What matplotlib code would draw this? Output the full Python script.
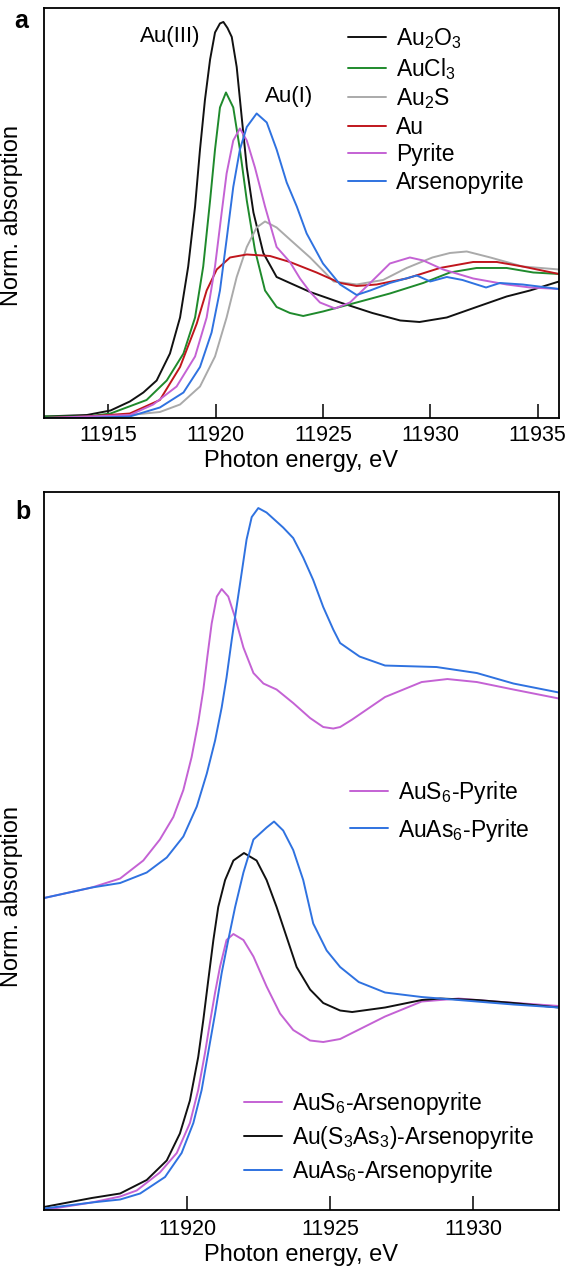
import matplotlib
matplotlib.use("Agg")
import matplotlib.pyplot as plt

plt.rcParams['font.family'] = ['Liberation Sans', 'DejaVu Sans']
plt.rcParams['mathtext.default'] = 'regular'

# --- panel a : reference spectra (energy in eV, normalised absorption) ---
e_au2o3 = [11912.0, 11914.0, 11915.1, 11916.0, 11916.63, 11917.25, 11917.87, 11918.34, 11918.72,
           11919.04, 11919.27, 11919.5, 11919.74, 11919.97, 11920.2, 11920.36, 11920.55, 11920.75,
           11920.98, 11921.21, 11921.45, 11921.76, 11922.22, 11922.84, 11923.46, 11924.4, 11925.8,
           11927.3, 11928.6, 11929.5, 11930.77, 11932.16, 11933.56, 11934.65, 11936.0]
y_au2o3 = [0.01, 0.02, 0.05, 0.11, 0.17, 0.25, 0.43, 0.67, 1.01,
           1.41, 1.79, 2.12, 2.39, 2.57, 2.63, 2.64, 2.60, 2.54,
           2.34, 2.01, 1.67, 1.37, 1.10, 0.94, 0.90, 0.84, 0.77,
           0.70, 0.65, 0.64, 0.67, 0.74, 0.81, 0.85, 0.91]

e_aucl3 = [11912.0, 11914.0, 11915.1, 11916.78, 11917.72, 11918.5, 11919.04, 11919.42, 11919.74,
           11919.97, 11920.2, 11920.48, 11920.82, 11921.13, 11921.45, 11921.83, 11922.3, 11922.84,
           11923.46, 11924.08, 11925.0, 11926.57, 11928.12, 11929.67, 11930.92, 11932.16, 11933.56,
           11934.8, 11936.0]
y_aucl3 = [0.01, 0.01, 0.03, 0.12, 0.25, 0.43, 0.67, 1.01, 1.45,
           1.79, 2.07, 2.17, 2.07, 1.79, 1.45, 1.12, 0.85, 0.74,
           0.70, 0.68, 0.71, 0.77, 0.83, 0.90, 0.97, 1.00, 1.00,
           0.97, 0.96]

e_au2s = [11912.0, 11914.0, 11916.0, 11917.4, 11918.34, 11919.27, 11919.97, 11920.51, 11920.98,
          11921.45, 11921.91, 11922.3, 11922.84, 11923.46, 11924.4, 11925.5, 11926.57, 11927.8,
          11928.9, 11930.1, 11930.92, 11931.7, 11932.8, 11934.3, 11936.0]
y_au2s = [0.00, 0.00, 0.02, 0.04, 0.09, 0.21, 0.41, 0.67, 0.94,
          1.14, 1.27, 1.31, 1.27, 1.19, 1.07, 0.91, 0.89, 0.92,
          1.00, 1.07, 1.10, 1.11, 1.07, 1.01, 0.99]

e_au = [11912.0, 11914.0, 11916.0, 11917.4, 11918.34, 11919.12, 11919.58, 11920.05, 11920.67,
        11921.45, 11922.53, 11923.46, 11924.7, 11925.8, 11926.57, 11927.5, 11928.9, 11930.45,
        11932.0, 11933.1, 11934.3, 11936.0]
y_au = [0.00, 0.01, 0.03, 0.12, 0.34, 0.63, 0.85, 0.99, 1.07,
        1.09, 1.08, 1.04, 0.97, 0.90, 0.88, 0.89, 0.93, 1.00,
        1.04, 1.04, 1.01, 0.96]

e_pyrite = [11912.0, 11914.0, 11916.0, 11917.09, 11918.18, 11919.04, 11919.58, 11919.97, 11920.28,
            11920.51, 11920.82, 11921.13, 11921.45, 11921.83, 11922.3, 11922.84, 11923.46, 11923.93,
            11924.4, 11924.86, 11925.56, 11926.26, 11927.2, 11928.12, 11929.05, 11929.67, 11930.6,
            11932.0, 11933.56, 11934.65, 11936.0]
y_pyrite = [0.00, 0.01, 0.02, 0.09, 0.21, 0.41, 0.67, 1.01, 1.37,
            1.63, 1.85, 1.93, 1.85, 1.67, 1.41, 1.14, 1.04, 0.93,
            0.84, 0.77, 0.73, 0.77, 0.90, 1.03, 1.07, 1.05, 0.99,
            0.93, 0.89, 0.87, 0.86]

e_arseno = [11912.0, 11914.0, 11916.0, 11917.4, 11918.5, 11919.27, 11919.81, 11920.2, 11920.51,
            11920.82, 11921.13, 11921.45, 11921.91, 11922.38, 11922.84, 11923.31, 11923.78, 11924.24,
            11925.0, 11925.8, 11926.57, 11927.2, 11928.12, 11929.37, 11930.0, 11930.77, 11931.5,
            11932.6, 11933.25, 11934.3, 11936.0]
y_arseno = [0.00, 0.00, 0.01, 0.07, 0.17, 0.34, 0.57, 0.85, 1.19,
            1.54, 1.79, 1.94, 2.03, 1.97, 1.79, 1.57, 1.41, 1.23,
            1.03, 0.89, 0.82, 0.85, 0.90, 0.95, 0.91, 0.94, 0.92,
            0.87, 0.90, 0.89, 0.86]

# --- panel b : calculated spectra ---
e_s6_py = [11915.0, 11916.67, 11917.66, 11918.47, 11919.05, 11919.52, 11919.87, 11920.16, 11920.39,
           11920.57, 11920.71, 11920.86, 11921.04, 11921.21, 11921.44, 11921.68, 11921.97, 11922.32,
           11922.67, 11923.13, 11923.71, 11924.3, 11924.76, 11925.11, 11925.35, 11925.77, 11926.92,
           11928.2, 11929.1, 11930.13, 11931.41, 11933.0]
y_s6_py = [2.08, 2.15, 2.21, 2.33, 2.47, 2.62, 2.80, 3.02, 3.25,
           3.47, 3.69, 3.91, 4.09, 4.14, 4.09, 3.95, 3.75, 3.58,
           3.51, 3.47, 3.38, 3.28, 3.22, 3.21, 3.22, 3.27, 3.42,
           3.52, 3.54, 3.52, 3.47, 3.41]

e_as6_py = [11915.0, 11916.67, 11917.66, 11918.59, 11919.29, 11919.87, 11920.34, 11920.69, 11920.98,
            11921.21, 11921.38, 11921.56, 11921.73, 11921.91, 11922.08, 11922.26, 11922.49, 11922.78,
            11923.36, 11923.71, 11924.06, 11924.41, 11924.76, 11925.11, 11925.35, 11926.03, 11926.92,
            11928.72, 11930.13, 11931.41, 11933.0]
y_as6_py = [2.08, 2.15, 2.18, 2.25, 2.35, 2.49, 2.69, 2.91, 3.13,
            3.35, 3.55, 3.80, 4.02, 4.25, 4.47, 4.62, 4.68, 4.65,
            4.55, 4.48, 4.35, 4.20, 4.02, 3.87, 3.78, 3.69, 3.63,
            3.62, 3.58, 3.51, 3.45]

e_s6_asp = [11915.0, 11916.67, 11917.66, 11918.24, 11919.05, 11919.64, 11920.1, 11920.39, 11920.63,
            11920.8, 11920.98, 11921.15, 11921.38, 11921.62, 11921.97, 11922.32, 11922.78, 11923.25,
            11923.71, 11924.3, 11924.76, 11925.35, 11926.92, 11928.2, 11929.49, 11930.77, 11933.0]
y_s6_asp = [0.00, 0.05, 0.09, 0.13, 0.25, 0.38, 0.58, 0.80, 1.05,
            1.25, 1.45, 1.62, 1.80, 1.84, 1.80, 1.69, 1.49, 1.31,
            1.20, 1.13, 1.12, 1.14, 1.29, 1.39, 1.41, 1.39, 1.36]

e_s3as3_asp = [11915.0, 11916.67, 11917.66, 11918.59, 11919.29, 11919.75, 11920.1, 11920.39, 11920.57,
               11920.74, 11920.92, 11921.09, 11921.33, 11921.62, 11921.99, 11922.43, 11922.78, 11923.13,
               11923.48, 11923.83, 11924.3, 11924.76, 11925.35, 11925.77, 11926.92, 11928.2, 11928.85,
               11930.13, 11931.41, 11933.0]
y_s3as3_asp = [0.02, 0.08, 0.11, 0.20, 0.33, 0.51, 0.73, 1.02, 1.27,
               1.53, 1.80, 2.02, 2.20, 2.33, 2.38, 2.33, 2.20, 2.02,
               1.82, 1.62, 1.47, 1.38, 1.33, 1.32, 1.35, 1.40, 1.41,
               1.40, 1.38, 1.35]

e_as6_asp = [11915.0, 11916.67, 11917.66, 11918.36, 11919.23, 11919.81, 11920.22, 11920.51, 11920.74,
             11920.98, 11921.21, 11921.44, 11921.68, 11921.97, 11922.32, 11922.78, 11923.04, 11923.36,
             11923.71, 11924.06, 11924.41, 11924.88, 11925.35, 11926.0, 11926.92, 11928.2, 11928.85,
             11930.13, 11931.41, 11933.0]
y_as6_asp = [0.01, 0.05, 0.07, 0.11, 0.22, 0.38, 0.58, 0.80, 1.05,
             1.31, 1.58, 1.80, 2.02, 2.25, 2.47, 2.55, 2.59, 2.53,
             2.40, 2.20, 1.91, 1.73, 1.62, 1.52, 1.45, 1.42, 1.41,
             1.39, 1.37, 1.35]

ticks_a = [11915, 11920, 11925, 11930, 11935]
ticks_b = [11920, 11925, 11930]

BLACK = '#111111'
GREEN = '#1f8a2c'
GREY = '#aaaaaa'
RED = '#c0161d'
PINK = '#c462d4'
BLUE = '#2f72e0'

fig = plt.figure(figsize=(5.75, 12.75), dpi=100)
ax_a = fig.add_axes([44/575, 1 - 418/1275, 515/575, 410/1275])
ax_b = fig.add_axes([44/575, 1 - 1210/1275, 515/575, 718/1275])

lw = 1.4
kw = dict(lw=lw, solid_joinstyle='round', solid_capstyle='round')
ax_a.plot(e_au2o3, y_au2o3, color=BLACK, label='Au$_2$O$_3$', **kw)
ax_a.plot(e_aucl3, y_aucl3, color=GREEN, label='AuCl$_3$', **kw)
ax_a.plot(e_au2s, y_au2s, color=GREY, label='Au$_2$S', **kw)
ax_a.plot(e_au, y_au, color=RED, label='Au', **kw)
ax_a.plot(e_pyrite, y_pyrite, color=PINK, label='Pyrite', **kw)
ax_a.plot(e_arseno, y_arseno, color=BLUE, label='Arsenopyrite', **kw)
ax_a.set_xlim(11912, 11936)
ax_a.set_ylim(0, 2.733)
ax_a.set_xticks(ticks_a)
ax_a.text(11917.9, 2.54, 'Au(III)', fontsize=16, ha='center', va='center')
ax_a.text(11923.4, 2.14, 'Au(I)', fontsize=16, ha='center', va='center')
ax_a.legend(loc='upper left', bbox_to_anchor=(0.59, 0.955), frameon=False, fontsize=16.5,
            handlelength=1.65, handletextpad=0.45, labelspacing=0.2, borderpad=0, borderaxespad=0)

l1, = ax_b.plot(e_s6_py, y_s6_py, color=PINK, label='AuS$_6$-Pyrite', **kw)
l2, = ax_b.plot(e_as6_py, y_as6_py, color=BLUE, label='AuAs$_6$-Pyrite', **kw)
l3, = ax_b.plot(e_s6_asp, y_s6_asp, color=PINK, label='AuS$_6$-Arsenopyrite', **kw)
l4, = ax_b.plot(e_s3as3_asp, y_s3as3_asp, color=BLACK, label='Au(S$_3$As$_3$)-Arsenopyrite', **kw)
l5, = ax_b.plot(e_as6_asp, y_as6_asp, color=BLUE, label='AuAs$_6$-Arsenopyrite', **kw)
ax_b.set_xlim(11915, 11933)
ax_b.set_ylim(0, 4.787)
ax_b.set_xticks(ticks_b)
leg1 = ax_b.legend(handles=[l1, l2], loc='upper left', bbox_to_anchor=(0.594, 0.60), frameon=False,
                   fontsize=16.5, handlelength=1.65, handletextpad=0.45, labelspacing=0.45,
                   borderpad=0, borderaxespad=0)
ax_b.add_artist(leg1)
ax_b.legend(handles=[l3, l4, l5], loc='upper left', bbox_to_anchor=(0.388, 0.167), frameon=False,
            fontsize=16.5, handlelength=1.65, handletextpad=0.45, labelspacing=0.3,
            borderpad=0, borderaxespad=0)

for ax, ly, pad in [(ax_a, 0.495, 5), (ax_b, 0.436, 6.5)]:
    ax.set_yticks([])
    ax.tick_params(axis='x', direction='in', length=10, width=1.1, labelsize=15.5, pad=pad)
    for s in ax.spines.values():
        s.set_linewidth(1.3)
    ax.set_xlabel('Photon energy, eV', fontsize=17, labelpad=3)
    ax.set_ylabel('Norm. absorption', fontsize=17)
    ax.yaxis.set_label_coords(-0.041, ly)

fig.text(21/575, 1 - 21/1275, 'a', fontsize=18, fontweight='bold', ha='center', va='center')
fig.text(23/575, 1 - 512/1275, 'b', fontsize=18, fontweight='bold', ha='center', va='center')

fig.savefig('out.png', dpi=100)
